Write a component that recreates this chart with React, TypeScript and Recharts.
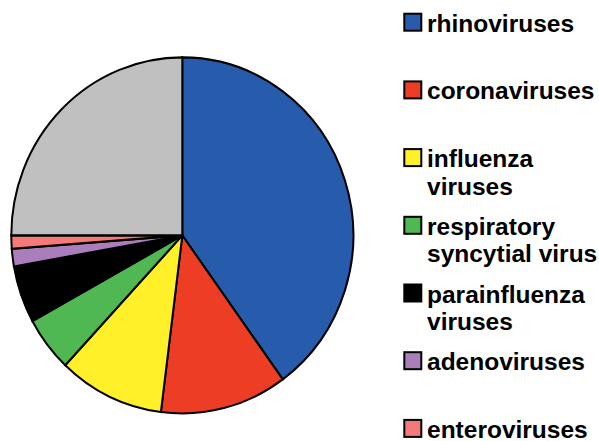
import React from 'react';
import { PieChart, Pie, Cell } from 'recharts';

const categories = [
  'rhinoviruses',
  'coronaviruses',
  'influenza viruses',
  'respiratory syncytial virus',
  'parainfluenza viruses',
  'adenoviruses',
  'enteroviruses',
  'other',
];
const shares = [40, 12, 10, 5, 5.2, 1.6, 1.2, 25];
const colors = ['#265CAB', '#EE3D25', '#FFF02A', '#50B853', '#000000', '#A97EBA', '#F37A78', '#C0C0C0'];
const legendLines = [
  ['rhinoviruses'],
  ['coronaviruses'],
  ['influenza', 'viruses'],
  ['respiratory', 'syncytial virus'],
  ['parainfluenza', 'viruses'],
  ['adenoviruses'],
  ['enteroviruses'],
];

const data = categories.map((name, i) => ({ name, value: shares[i] }));

const W = 599;
const H = 441;
const CX = 182.3;
const CY = 235.4;

const LegendBlock = () => (
  <svg width={W} height={H} style={{ position: 'absolute', left: 0, top: 0, pointerEvents: 'none' }}>
    {legendLines.map((lines, i) => {
      const base = 31.7 + i * 67.7;
      return (
        <g key={i}>
          <rect x={404.3} y={base - 18} width={17} height={17} fill={colors[i]} stroke="#000" strokeWidth={2} />
          {lines.map((t, j) => (
            <text
              key={j}
              x={427}
              y={base + j * 27.5}
              fontFamily="'Liberation Sans', Arial, sans-serif"
              fontWeight="bold"
              fontSize={24.5}
              fill="#000"
            >
              {t}
            </text>
          ))}
        </g>
      );
    })}
  </svg>
);

export default function App() {
  return (
    <div style={{ position: 'absolute', left: 0, top: 0, width: W, height: H, background: '#fff' }}>
      <style>{`.recharts-pie { transform: scaleY(1.041); transform-origin: ${CX}px ${CY}px; }`}</style>
      <PieChart width={W} height={H} margin={{ top: 0, right: 0, bottom: 0, left: 0 }}>
        <Pie
          data={data}
          dataKey="value"
          nameKey="name"
          cx={CX}
          cy={CY}
          outerRadius={171}
          startAngle={90}
          endAngle={-270}
          stroke="#000"
          strokeWidth={2}
          isAnimationActive={false}
        >
          {data.map((d, i) => (
            <Cell key={d.name} fill={colors[i]} />
          ))}
        </Pie>
      </PieChart>
      <LegendBlock />
    </div>
  );
}
